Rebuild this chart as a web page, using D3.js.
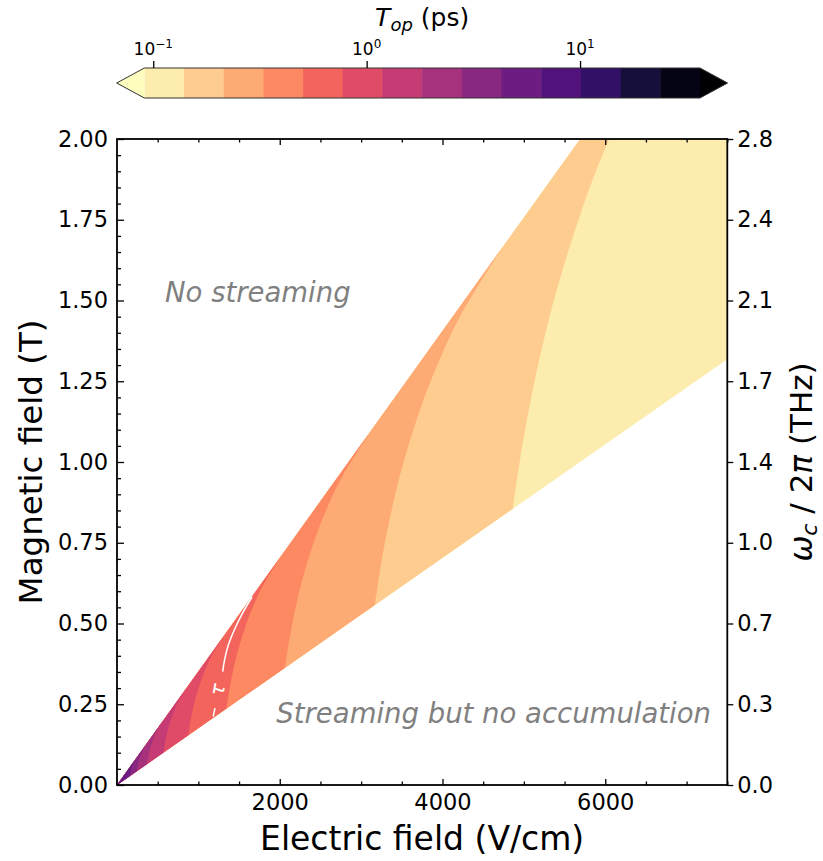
<!DOCTYPE html>
<html lang="en">
<head>
<meta charset="utf-8">
<title>T_op map</title>
<script src="https://cdn.jsdelivr.net/npm/d3@7"></script>
<style>
  body { margin: 0; background: #fff; }
  svg text { font-family: "DejaVu Sans", sans-serif; }
</style>
</head>
<body>
<script>
// T_op contour levels (ps), log spaced
var levels = [0.0908, 0.1393, 0.2138, 0.3281, 0.5035, 0.7727, 1.186, 1.820, 2.793, 4.285, 6.577, 10.09, 15.49, 23.77, 36.48];

// streaming wedge edges, [E (V/cm), B (T)]
var upperEdge = [[0, 0], [5690, 2.0]];
var lowerEdge = [[0, 0], [7500, 1.318]];

// contour lines, lower edge -> upper edge
var c1 = [[4864, 0.855], [4981, 1.051], [5145, 1.266], [5383, 1.514], [5779, 1.828], [6127, 2.046], [6495, 2.237], [7296, 2.564]];
var c2 = [[3169, 0.557], [3245, 0.684], [3352, 0.825], [3507, 0.986], [3765, 1.191], [3992, 1.333], [4232, 1.458], [4753, 1.671]];
var c3 = [[2065, 0.363], [2115, 0.446], [2184, 0.537], [2286, 0.643], [2453, 0.776], [2601, 0.869], [2758, 0.950], [3097, 1.089]];
var c4 = [[1345, 0.2365], [1378, 0.2906], [1423, 0.3502], [1489, 0.4188], [1599, 0.5057], [1695, 0.5659], [1797, 0.6189], [2018, 0.7094]];
var c5 = [[876.8, 0.1541], [898, 0.1894], [927.5, 0.2282], [970.5, 0.2729], [1041.8, 0.3296], [1104.5, 0.3688], [1170.9, 0.4033], [1315.2, 0.4623]];
var c6 = [[571.3, 0.1004], [585.1, 0.1234], [604.3, 0.1487], [632.3, 0.1778], [678.7, 0.2147], [719.6, 0.2403], [762.9, 0.2628], [856.9, 0.3012]];
var c7 = [[372.3, 0.0654], [381.3, 0.0804], [393.8, 0.0969], [412, 0.1159], [442.3, 0.1399], [468.9, 0.1566], [497.1, 0.1712], [558.4, 0.1963]];
var c8 = [[242.6, 0.0426], [248.4, 0.0524], [256.6, 0.0631], [268.5, 0.0755], [288.2, 0.0912], [305.6, 0.102], [323.9, 0.1116], [363.9, 0.1279]];
var c9 = [[158.1, 0.0278], [161.9, 0.0342], [167.2, 0.0412], [175, 0.0492], [187.9, 0.0594], [199.2, 0.0665], [211.1, 0.0727], [237.2, 0.0834]];
var contours = [c1, c2, c3, c4, c5, c6, c7, c8, c9];

// white tau line (two pieces around its label)
var tauTop = [[1659, 0.582], [1536, 0.529], [1447, 0.483], [1366, 0.432], [1320, 0.385], [1299, 0.351]];
var tauBottom = [[1204, 0.238], [1190, 0.222], [1183, 0.212]];

var xMajor = [2000, 4000, 6000];
var yMajor = [0, 0.25, 0.5, 0.75, 1.0, 1.25, 1.5, 1.75, 2.0];
var freqLabels = ["0.0", "0.3", "0.7", "1.0", "1.4", "1.7", "2.1", "2.4", "2.8"];
var cbTicks = [0.1, 1, 10];

var W = 823, H = 861;
var pL = 117, pR = 727.3, pT = 139, pB = 785;

var svg = d3.select("body").append("svg").attr("width", W).attr("height", H);

var x = d3.scaleLinear().domain([0, 7500]).range([pL, pR]);
var y = d3.scaleLinear().domain([0, 2]).range([pB, pT]);

function binColor(i) { return d3.interpolateMagma(1 - (i + 0.5) / 14); }

svg.append("clipPath").attr("id", "plotclip")
  .append("rect").attr("x", pL).attr("y", pT).attr("width", pR - pL).attr("height", pB - pT);

var plot = svg.append("g").attr("clip-path", "url(#plotclip)");

// base wedge, lightest bin
var wedge = [lowerEdge[0], lowerEdge[1], [7500, 2.0], upperEdge[1]];
plot.append("path")
  .attr("d", d3.line().x(function(d) { return x(d[0]); }).y(function(d) { return y(d[1]); })(wedge) + "Z")
  .attr("fill", binColor(0));

var curve = d3.line().curve(d3.curveCatmullRom)
  .x(function(d) { return x(d[0]); }).y(function(d) { return y(d[1]); });

contours.forEach(function(c, k) {
  plot.append("path")
    .attr("d", curve(c) + "L" + x(0) + "," + y(0) + "Z")
    .attr("fill", binColor(k + 1));
});

[tauTop, tauBottom].forEach(function(seg) {
  plot.append("path").attr("d", curve(seg))
    .attr("fill", "none").attr("stroke", "white").attr("stroke-width", 1.5);
});
plot.append("text")
  .attr("transform", "translate(" + x(1235) + "," + y(0.295) + ") rotate(-80)")
  .attr("text-anchor", "middle").attr("dy", "0.35em")
  .attr("font-size", 20).attr("font-style", "italic").attr("fill", "white")
  .text("τ");

// annotations
svg.append("text").attr("x", 165).attr("y", 302)
  .attr("font-size", 27.5).attr("font-style", "italic").attr("fill", "#808080")
  .text("No streaming");
svg.append("text").attr("x", 711).attr("y", 723).attr("text-anchor", "end")
  .attr("font-size", 27.5).attr("font-style", "italic").attr("fill", "#808080")
  .text("Streaming but no accumulation");

// axes
function minorVals(a, b, step, majors) {
  var out = [];
  for (var v = a; v <= b + 1e-9; v += step) {
    var r = Math.round(v * 1000) / 1000;
    if (majors.indexOf(r) < 0) out.push(r);
  }
  return out;
}
var xMinor = minorVals(500, 7500, 500, xMajor);
var yMinor = minorVals(0, 2, 0.05, yMajor);

function styleAxis(g) {
  g.select(".domain").remove();
  g.selectAll("line").attr("stroke", "black").attr("stroke-width", 1.3);
  g.selectAll("text").attr("font-size", 22.5).attr("fill", "black").attr("font-family", "DejaVu Sans");
}

svg.append("g").attr("transform", "translate(0," + pB + ")")
  .call(d3.axisBottom(x).tickValues(xMajor).tickSize(-6).tickPadding(9).tickFormat(d3.format("d")))
  .call(styleAxis);
svg.append("g").attr("transform", "translate(0," + pB + ")")
  .call(d3.axisBottom(x).tickValues(xMinor).tickSize(-3.5).tickFormat(""))
  .call(styleAxis);
svg.append("g").attr("transform", "translate(0," + pT + ")")
  .call(d3.axisTop(x).tickValues(xMajor).tickSize(-6).tickFormat(""))
  .call(styleAxis);
svg.append("g").attr("transform", "translate(0," + pT + ")")
  .call(d3.axisTop(x).tickValues(xMinor).tickSize(-3.5).tickFormat(""))
  .call(styleAxis);
svg.append("g").attr("transform", "translate(" + pL + ",0)")
  .call(d3.axisLeft(y).tickValues(yMajor).tickSize(-7).tickPadding(9).tickFormat(d3.format(".2f")))
  .call(styleAxis);
svg.append("g").attr("transform", "translate(" + pL + ",0)")
  .call(d3.axisLeft(y).tickValues(yMinor).tickSize(-4).tickFormat(""))
  .call(styleAxis);
svg.append("g").attr("transform", "translate(" + pR + ",0)")
  .call(d3.axisRight(y).tickValues(yMajor).tickSize(6).tickPadding(4)
    .tickFormat(function(d, i) { return freqLabels[i]; }))
  .call(styleAxis);

svg.append("rect").attr("x", pL).attr("y", pT)
  .attr("width", pR - pL).attr("height", pB - pT)
  .attr("fill", "none").attr("stroke", "black").attr("stroke-width", 1.8);

// axis labels
svg.append("text").attr("x", (pL + pR) / 2).attr("y", 850)
  .attr("text-anchor", "middle").attr("font-size", 33).text("Electric field (V/cm)");
svg.append("text").attr("transform", "translate(42," + (pT + pB) / 2 + ") rotate(-90)")
  .attr("text-anchor", "middle").attr("font-size", 32.5).text("Magnetic field (T)");
var rl = svg.append("text").attr("transform", "translate(812," + (pT + pB) / 2 + ") rotate(-90)")
  .attr("text-anchor", "middle").attr("font-size", 31);
rl.append("tspan").attr("font-style", "italic").text("ω");
rl.append("tspan").attr("font-style", "italic").attr("font-size", 22).attr("dy", 5).text("c");
rl.append("tspan").attr("dy", -5).text(" / 2");
rl.append("tspan").attr("font-style", "italic").text("π");
rl.append("tspan").text(" (THz)");

// colorbar
var cbL = 144.3, cbR = 700, cbT = 68, cbB = 98, cbTip = 27.6;
var cb = d3.scaleLog().domain([levels[0], levels[levels.length - 1]]).range([cbL, cbR]);
var cbg = svg.append("g");
cbg.selectAll("rect.bin").data(d3.range(levels.length - 1)).enter().append("rect")
  .attr("class", "bin")
  .attr("x", function(i) { return cb(levels[i]); })
  .attr("width", function(i) { return cb(levels[i + 1]) - cb(levels[i]) + 0.5; })
  .attr("y", cbT).attr("height", cbB - cbT)
  .attr("fill", function(i) { return binColor(i); });
cbg.append("path")
  .attr("d", "M" + cbL + "," + cbT + "L" + (cbL - cbTip) + "," + (cbT + cbB) / 2 + "L" + cbL + "," + cbB + "Z")
  .attr("fill", d3.interpolateMagma(1));
cbg.append("path")
  .attr("d", "M" + cbR + "," + cbT + "L" + (cbR + cbTip) + "," + (cbT + cbB) / 2 + "L" + cbR + "," + cbB + "Z")
  .attr("fill", d3.interpolateMagma(0));
cbg.append("path")
  .attr("d", "M" + cbL + "," + cbT + "L" + cbR + "," + cbT + "L" + (cbR + cbTip) + "," + (cbT + cbB) / 2 +
    "L" + cbR + "," + cbB + "L" + cbL + "," + cbB + "L" + (cbL - cbTip) + "," + (cbT + cbB) / 2 + "Z")
  .attr("fill", "none").attr("stroke", "#333").attr("stroke-width", 1);

svg.append("g").attr("transform", "translate(0," + cbT + ")")
  .call(d3.axisTop(cb).tickValues(cbTicks).tickSize(7).tickFormat(""))
  .call(styleAxis);
cbTicks.forEach(function(v) {
  var e = Math.round(Math.log10(v));
  var t = svg.append("text").attr("x", cb(v)).attr("y", 55).attr("text-anchor", "middle").attr("font-size", 17);
  t.append("tspan").text("10");
  t.append("tspan").attr("font-size", 12).attr("dy", -7).text(e < 0 ? "−" + Math.abs(e) : String(e));
});
var title = svg.append("text").attr("x", (cbL - cbTip + cbR + cbTip) / 2).attr("y", 26)
  .attr("text-anchor", "middle").attr("font-size", 25);
title.append("tspan").attr("font-style", "italic").text("T");
title.append("tspan").attr("font-style", "italic").attr("font-size", 18).attr("dy", 5).text("op");
title.append("tspan").attr("dy", -5).text(" (ps)");
</script>
</body>
</html>
